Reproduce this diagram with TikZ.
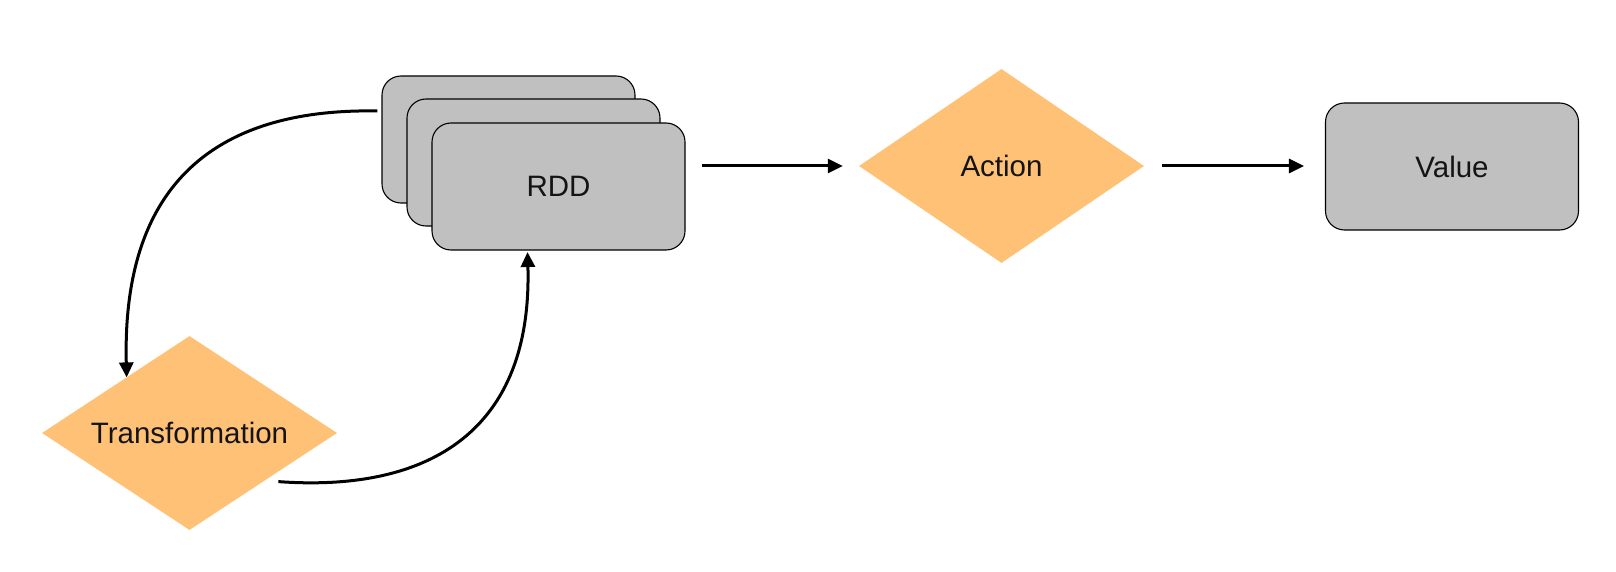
\documentclass[tikz,border=0pt]{standalone}
\usepackage{fontspec}
\setmainfont{Liberation Sans}
\usetikzlibrary{shapes.geometric,arrows.meta}
\definecolor{boxgray}{RGB}{192,192,192}
\definecolor{diaorange}{RGB}{255,193,117}
\definecolor{txt}{RGB}{20,20,20}
\tikzset{
  databox/.style={draw=black, line width=1.1pt, fill=boxgray, rounded corners=19pt,
    minimum width=253pt, minimum height=127pt, inner sep=0pt, text=txt,
    font=\fontsize{29.5}{35}\selectfont},
  opdia/.style={diamond, fill=diaorange, inner sep=0pt, text=txt,
    font=\fontsize{29.5}{35}\selectfont},
  flow/.style={line width=3pt, -{Triangle[length=15pt,width=14pt]}},
}
\begin{document}
\begin{tikzpicture}[x=1pt,y=-1pt]
\useasboundingbox (0,0) rectangle (1616,572);
% RDD stack
\node[databox] (rdd3) at (508.5,139.5) {};
\node[databox] (rdd2) at (533.5,162.5) {};
\node[databox] (rdd) at (558.5,186.5) {RDD};
% diamonds
\node[opdia, aspect=1.47, minimum width=285pt, minimum height=194pt] (action) at (1001.5,166) {Action};
\node[opdia, aspect=1.52, minimum width=295pt, minimum height=194pt] (trans) at (189.5,433) {Transformation};
% value
\node[databox] (value) at (1452,166.5) {Value};
% straight arrows
\draw[flow, shorten <=16pt, shorten >=16pt] (action.west -| rdd.east) -- (action.west);
\draw[flow, shorten <=18pt, shorten >=21pt] (action.east) -- (action.east -| value.west);
% curved arrows
\draw[flow] ([xshift=-4pt,yshift=28.5pt]rdd3.west) .. controls +(-158,-3) and +(-5,-197) .. ([xshift=11pt,yshift=7pt]trans.north west);
\draw[flow] ([xshift=15pt]trans.south east) .. controls +(152,11) and +(5,178) .. ([xshift=-31pt,yshift=-1.5pt]rdd.south);
\end{tikzpicture}
\end{document}
